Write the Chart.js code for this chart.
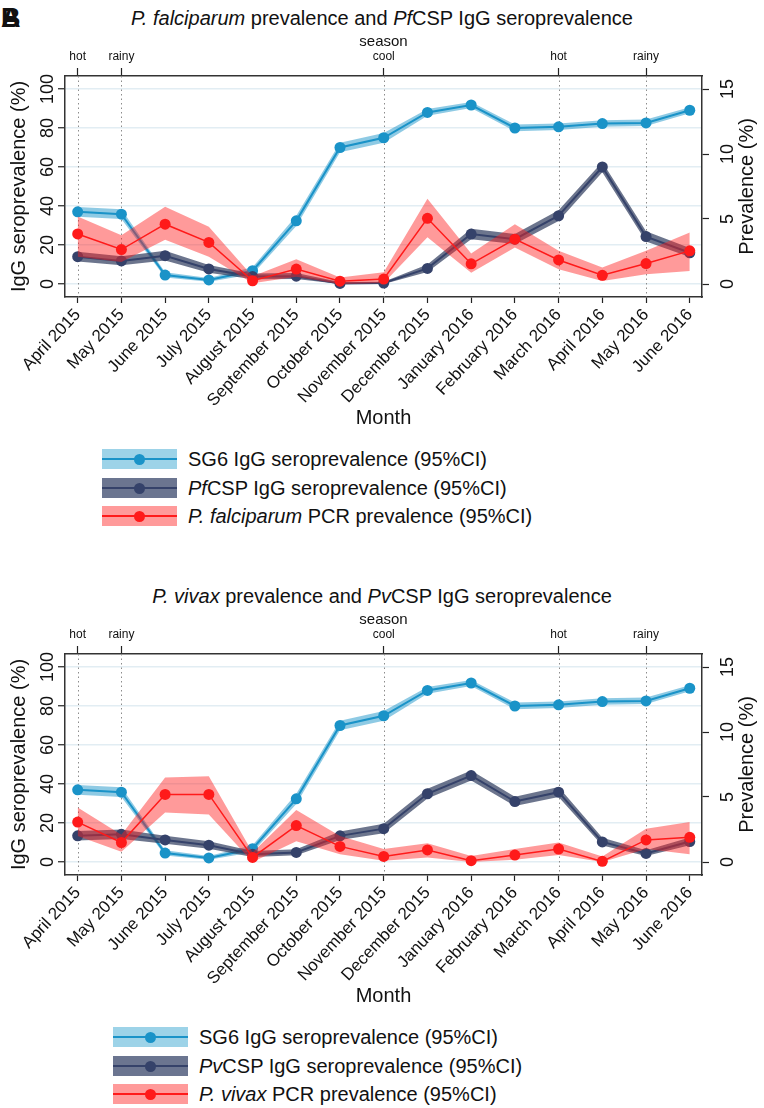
<!DOCTYPE html>
<html>
<head>
<meta charset="utf-8">
<script src="https://cdn.jsdelivr.net/npm/chart.js@4.4.1/dist/chart.umd.min.js"></script>
<style>
body { margin: 0; background: #fff; font-family: "Liberation Sans", Arial, sans-serif; color: #111; }
#page { position: relative; width: 764px; height: 1108px; overflow: hidden; background: #fff; }
.panel { position: absolute; left: 0; width: 764px; height: 530px; }
.panel canvas { position: absolute; left: 0; top: 0; }
.title { position: absolute; left: 0; width: 764px; top: 6px; text-align: center; font-size: 20px; line-height: 24px; white-space: nowrap; }
.legend { position: absolute; top: 449px; }
.row { position: relative; height: 28.5px; width: 500px; }
.swatch { position: absolute; left: 0; top: 0; width: 75px; height: 20px; }
.swatch .bar { position: absolute; left: 0; right: 0; top: 9px; height: 2px; }
.swatch .dot { position: absolute; left: 32px; top: 5px; width: 11px; height: 11px; border-radius: 50%; }
.label { position: absolute; left: 86px; top: -2px; font-size: 20px; line-height: 24px; white-space: nowrap; }
.letter { position: absolute; left: 1px; top: 3px; font-size: 27px; font-weight: bold; line-height: 30px; }
</style>
</head>
<body>
<div id="page">
  <div class="letter">A</div>
  <div class="letter">B</div>

  <div class="panel" id="panelPf" style="top:0px">
    <div class="title"><i>P. falciparum</i> prevalence and <i>Pf</i>CSP IgG seroprevalence</div>
    <canvas id="chartPf" width="764" height="434"></canvas>
    <div class="legend" id="legendPf" style="left:102px"></div>
  </div>

  <div class="panel" id="panelPv" style="top:578px">
    <div class="title"><i>P. vivax</i> prevalence and <i>Pv</i>CSP IgG seroprevalence</div>
    <canvas id="chartPv" width="764" height="434"></canvas>
    <div class="legend" id="legendPv" style="left:113px"></div>
  </div>
</div>

<script>
const months = ['April 2015', 'May 2015', 'June 2015', 'July 2015', 'August 2015', 'September 2015',
  'October 2015', 'November 2015', 'December 2015', 'January 2016', 'February 2016', 'March 2016',
  'April 2016', 'May 2016', 'June 2016'];
const seasonIdx = [0, 1, 7, 11, 13];
const seasonNames = ['hot', 'rainy', 'cool', 'hot', 'rainy'];
const igTicks = [0, 20, 40, 60, 80, 100];
const prevTicks = [0, 5, 10, 15];

// SG6 IgG seroprevalence (%), same in both panels
const sg6 = [37, 35.8, 4.6, 2.1, 6.8, 32.4, 70, 75, 88, 91.8, 80, 80.6, 82.3, 82.6, 89.1];
const sg6Lo = [34.5, 33.3, 3.3, 1.2, 5, 29.8, 67.6, 72.5, 86.3, 90.3, 78.3, 79, 80.7, 81, 87.6];
const sg6Hi = [39.5, 38.3, 6, 3.1, 8.6, 35, 72.4, 77.5, 89.7, 93.3, 81.8, 82.3, 84, 84.3, 90.6];

// PfCSP IgG seroprevalence (%)
const pfCsp = [14, 11.8, 14.5, 7.7, 3.8, 4, 0.3, 0.5, 8, 25.6, 23, 35, 60, 24.3, 16];
const pfCspLo = [11.5, 9.6, 12, 5.8, 2.4, 2.5, 0, 0, 6.2, 23, 20.5, 32.3, 57.3, 21.8, 13.8];
const pfCspHi = [16.6, 14.2, 17, 9.8, 5.4, 5.7, 1, 1.2, 10, 28.3, 25.6, 37.8, 62.6, 27, 18.4];

// P. falciparum PCR prevalence (%)
const pfPcr = [3.85, 2.65, 4.6, 3.2, 0.25, 1.15, 0.22, 0.38, 5.05, 1.55, 3.45, 1.85, 0.67, 1.57, 2.55];
const pfPcrLo = [2.1, 1.7, 3.4, 2.1, 0.05, 0.55, 0, 0.08, 3.6, 0.87, 2.8, 1.13, 0.23, 0.75, 1];
const pfPcrHi = [5.2, 3.75, 5.95, 4.4, 0.6, 1.9, 0.5, 0.9, 6.55, 2.35, 4.6, 2.55, 1.26, 2.55, 3.97];

// PvCSP IgG seroprevalence (%)
const pvCsp = [13.4, 14.2, 11.3, 8.6, 4, 4.9, 13.4, 17.1, 35, 44.3, 31, 35.8, 10.3, 4.4, 10.5];
const pvCspLo = [11, 11.8, 9.3, 6.8, 2.6, 3.5, 11.3, 14.8, 32.5, 41.8, 28.7, 33.3, 8.4, 3.1, 8.6];
const pvCspHi = [15.9, 16.7, 13.5, 10.6, 5.6, 6.5, 15.7, 19.6, 37.6, 46.9, 33.5, 38.4, 12.4, 6, 12.6];

// P. vivax PCR prevalence (%)
const pvPcr = [3.07, 1.5, 5.2, 5.2, 0.35, 2.8, 1.2, 0.43, 0.93, 0.1, 0.53, 1, 0.05, 1.7, 1.9];
const pvPcrLo = [2, 0.78, 3.8, 3.66, 0, 1.6, 0.6, 0.1, 0.35, 0, 0.17, 0.53, 0, 1, 0.6];
const pvPcrHi = [4.2, 2.1, 6.5, 6.6, 0.73, 4, 2, 1, 1.45, 0.47, 1, 1.5, 0.43, 2.56, 3.07];

const fam = '"Liberation Sans", Arial, sans-serif';
Chart.defaults.font.family = fam;
Chart.defaults.color = '#111';

const blue = { line: '#1a93c8', band: 'rgba(29,149,201,0.5)', swatch: '#9dd3e8' };
const navy = { line: '#35426a', band: 'rgba(46,58,92,0.7)', swatch: '#6b7590' };
const red = { line: '#ff1a1a', band: 'rgba(255,30,30,0.45)', swatch: '#ff9a9a' };

function pts(arr) {
  return arr.map((v, i) => ({ x: i, y: v }));
}

function seriesWithBand(line, lo, hi, axis, col, width) {
  return [
    { data: pts(line), xAxisID: 'x', yAxisID: axis, borderColor: col.line, borderWidth: width,
      pointRadius: 5.5, pointHoverRadius: 5.5, pointBorderWidth: 0, pointBackgroundColor: col.line,
      fill: false, tension: 0 },
    { data: pts(hi), xAxisID: 'x', yAxisID: axis, borderColor: 'rgba(0,0,0,0)', borderWidth: 1,
      pointRadius: 0, backgroundColor: col.band, fill: '+1', tension: 0 },
    { data: pts(lo), xAxisID: 'x', yAxisID: axis, borderColor: 'rgba(0,0,0,0)', borderWidth: 1,
      pointRadius: 0, fill: false, tension: 0 }
  ];
}

function vertText(ctx, text, x, y) {
  ctx.save();
  ctx.translate(x, y);
  ctx.rotate(-Math.PI / 2);
  ctx.fillText(text, 0, 0);
  ctx.restore();
}

// dotted season lines across the plot
const seasonLines = {
  id: 'seasonLines',
  beforeDatasetsDraw(chart) {
    const ctx = chart.ctx, a = chart.chartArea, x = chart.scales.x;
    ctx.save();
    ctx.strokeStyle = '#8c8c8c';
    ctx.lineWidth = 1;
    ctx.setLineDash([1.5, 3]);
    seasonIdx.forEach(i => {
      const px = Math.round(x.getPixelForValue(i)) + 0.5;
      ctx.beginPath();
      ctx.moveTo(px, a.top);
      ctx.lineTo(px, a.bottom);
      ctx.stroke();
    });
    ctx.restore();
  }
};

// vertical tick labels and axis titles, Stata style
const sideText = {
  id: 'sideText',
  afterDraw(chart) {
    const ctx = chart.ctx, a = chart.chartArea;
    const y = chart.scales.y, y1 = chart.scales.y1;
    ctx.save();
    ctx.fillStyle = '#111';
    ctx.textAlign = 'center';
    ctx.textBaseline = 'alphabetic';
    ctx.font = '18px ' + fam;
    y.ticks.forEach(t => vertText(ctx, String(t.value), 53, y.getPixelForValue(t.value)));
    y1.ticks.forEach(t => vertText(ctx, String(t.value), 733, y1.getPixelForValue(t.value)));
    ctx.font = '20px ' + fam;
    const mid = (a.top + a.bottom) / 2;
    vertText(ctx, 'IgG seroprevalence (%)', 25, mid);
    vertText(ctx, 'Prevalence (%)', 753, mid);
    ctx.restore();
  }
};

function makeChart(canvasId, datasets) {
  const border = { color: '#333', width: 1.5 };
  return new Chart(document.getElementById(canvasId), {
    type: 'line',
    data: { datasets: datasets },
    plugins: [seasonLines, sideText],
    options: {
      responsive: false,
      animation: false,
      devicePixelRatio: 1,
      layout: { padding: 0 },
      plugins: { legend: { display: false }, tooltip: { enabled: false } },
      scales: {
        x: {
          type: 'linear', position: 'bottom', min: -0.29, max: 14.28,
          afterBuildTicks: s => { s.ticks = months.map((m, i) => ({ value: i })); },
          afterFit: s => { s.height = 137; },
          ticks: { autoSkip: false, minRotation: 47, maxRotation: 47, padding: 2, color: '#111',
            font: { size: 17 }, callback: v => months[v] },
          grid: { drawOnChartArea: false, tickLength: 6, tickColor: '#222', tickWidth: 1.2 },
          border: border,
          title: { display: true, text: 'Month', color: '#111', font: { size: 20 }, padding: { top: 4, bottom: 4 } }
        },
        xTop: {
          type: 'linear', position: 'top', min: -0.29, max: 14.28,
          afterBuildTicks: s => { s.ticks = seasonIdx.map(v => ({ value: v })); },
          afterFit: s => { s.height = 76; },
          ticks: { autoSkip: false, maxRotation: 0, minRotation: 0, padding: 4, color: '#111',
            font: { size: 12 }, callback: v => seasonNames[seasonIdx.indexOf(v)] },
          grid: { drawOnChartArea: false, tickLength: 8, tickColor: '#222', tickWidth: 1.2 },
          border: border,
          title: { display: true, text: 'season', color: '#111', font: { size: 15 }, padding: { top: 33, bottom: 0 } }
        },
        y: {
          position: 'left', min: -6.67, max: 106.67,
          afterBuildTicks: s => { s.ticks = igTicks.map(v => ({ value: v })); },
          afterFit: s => { s.width = 65; },
          ticks: { display: false },
          grid: { color: '#e2edf3', lineWidth: 1.5, tickLength: 7, tickColor: '#222', tickWidth: 1.2 },
          border: border
        },
        y1: {
          position: 'right', min: -1, max: 16,
          afterBuildTicks: s => { s.ticks = prevTicks.map(v => ({ value: v })); },
          afterFit: s => { s.width = 62; },
          ticks: { display: false },
          grid: { drawOnChartArea: false, tickLength: 7, tickColor: '#222', tickWidth: 1.2 },
          border: border
        }
      }
    }
  });
}

function makeLegend(id, names) {
  const cols = [blue, navy, red];
  let html = '';
  names.forEach((n, i) => {
    html += '<div class="row"><div class="swatch" style="background:' + cols[i].swatch + '">' +
      '<div class="bar" style="background:' + cols[i].line + '"></div>' +
      '<div class="dot" style="background:' + cols[i].line + '"></div></div>' +
      '<div class="label">' + n + '</div></div>';
  });
  document.getElementById(id).innerHTML = html;
}

makeChart('chartPf', [].concat(
  seriesWithBand(pfPcr, pfPcrLo, pfPcrHi, 'y1', red, 1.5),
  seriesWithBand(pfCsp, pfCspLo, pfCspHi, 'y', navy, 2),
  seriesWithBand(sg6, sg6Lo, sg6Hi, 'y', blue, 2)
));
makeChart('chartPv', [].concat(
  seriesWithBand(pvPcr, pvPcrLo, pvPcrHi, 'y1', red, 1.5),
  seriesWithBand(pvCsp, pvCspLo, pvCspHi, 'y', navy, 2),
  seriesWithBand(sg6, sg6Lo, sg6Hi, 'y', blue, 2)
));

makeLegend('legendPf', ['SG6 IgG seroprevalence (95%CI)', '<i>Pf</i>CSP IgG seroprevalence (95%CI)',
  '<i>P. falciparum</i> PCR prevalence (95%CI)']);
makeLegend('legendPv', ['SG6 IgG seroprevalence (95%CI)', '<i>Pv</i>CSP IgG seroprevalence (95%CI)',
  '<i>P. vivax</i> PCR prevalence (95%CI)']);
</script>
</body>
</html>
